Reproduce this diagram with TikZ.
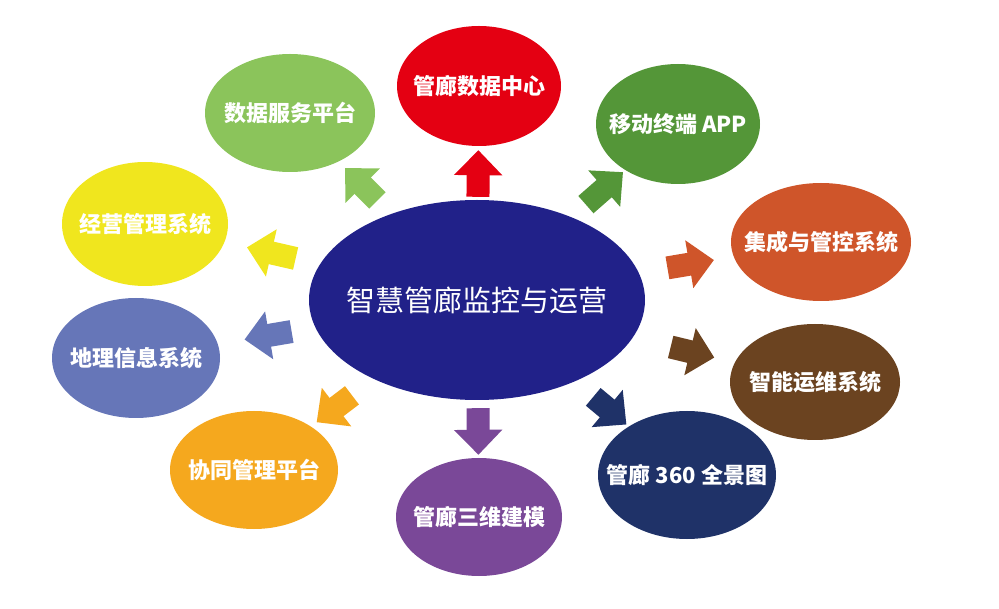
\documentclass[tikz,border=0pt]{standalone}
\usepackage{fontspec}
\setmainfont{Noto Sans CJK SC}
\usepackage{tikz}
\usetikzlibrary{shapes.geometric, arrows.meta}

\definecolor{hubblue}{RGB}{33,33,137}
\definecolor{dcred}{RGB}{228,0,18}
\definecolor{appgreen}{RGB}{84,150,56}
\definecolor{svcgreen}{RGB}{139,196,91}
\definecolor{mgmtyellow}{RGB}{240,230,30}
\definecolor{intorange}{RGB}{207,85,42}
\definecolor{geoblue}{RGB}{102,118,184}
\definecolor{opsbrown}{RGB}{107,67,32}
\definecolor{coopamber}{RGB}{245,168,30}
\definecolor{modpurple}{RGB}{122,72,152}
\definecolor{panonavy}{RGB}{31,50,104}

% text that does not stretch the ellipse
\newcommand{\blobtext}[1]{\makebox[0pt]{#1}}

\begin{document}
\begin{tikzpicture}[
        x=1pt, y=-1pt,
        blob/.style={ellipse, inner sep=0pt, text=white, font=\bfseries\fontsize{22}{22}\selectfont},
        fat/.style={line width=23pt, -{Triangle[width=47pt, length=25pt]}}
    ]
    \useasboundingbox (0,0) rectangle (999,609);

    % Centre node
    \node[ellipse, inner sep=0pt, fill=hubblue, minimum width=336pt, minimum height=200pt, text=white, font=\fontsize{29}{29}\selectfont] (hub) at (477,300) {\blobtext{智慧管廊监控与运营}};

    % Outer nodes
    \node[blob, fill=dcred, minimum width=164pt, minimum height=120pt] (dc) at (479,86) {\blobtext{管廊数据中心}};
    \node[blob, fill=appgreen, minimum width=164pt, minimum height=120pt] (app) at (678,124) {\blobtext{移动终端 APP}};
    \node[blob, fill=svcgreen, minimum width=170pt, minimum height=118pt] (svc) at (290,113) {\blobtext{数据服务平台}};
    \node[blob, fill=mgmtyellow, minimum width=166pt, minimum height=124pt] (mgmt) at (145,224) {\blobtext{经营管理系统}};
    \node[blob, fill=intorange, minimum width=180pt, minimum height=118pt] (integ) at (821,242) {\blobtext{集成与管控系统}};
    \node[blob, fill=geoblue, minimum width=168pt, minimum height=120pt] (geo) at (136,358) {\blobtext{地理信息系统}};
    \node[blob, fill=opsbrown, minimum width=170pt, minimum height=116pt] (ops) at (815,382) {\blobtext{智能运维系统}};
    \node[blob, fill=coopamber, minimum width=168pt, minimum height=118pt] (coop) at (254,470) {\blobtext{协同管理平台}};
    \node[blob, fill=modpurple, minimum width=166pt, minimum height=118pt] (model) at (479,517) {\blobtext{管廊三维建模}};
    \node[blob, fill=panonavy, minimum width=178pt, minimum height=128pt] (pano) at (687,475) {\blobtext{管廊 360 全景图}};

    % Block arrows
    \draw[fat, dcred, shorten <=3pt, shorten >=4pt] (hub) -- (dc);
    \draw[fat, appgreen, shorten <=19pt, shorten >=3pt] (hub) -- (app);
    \draw[fat, svcgreen, shorten <=19pt, shorten >=9pt] (hub) -- (svc);
    \draw[fat, mgmtyellow, shorten <=25pt, shorten >=23pt] (hub) -- (mgmt);
    \draw[fat, intorange, shorten <=29pt, shorten >=20pt] (hub) -- (integ);
    \draw[fat, geoblue, shorten <=24pt, shorten >=27pt] (hub) -- (geo);
    \draw[fat, opsbrown, shorten <=39pt, shorten >=21pt] (hub) -- (ops);
    \draw[fat, coopamber, shorten <=27pt, shorten >=7pt] (hub) -- (coop);
    \draw[fat, modpurple, shorten <=8pt, shorten >=3pt] (hub) -- (model);
    \draw[fat, panonavy, shorten <=24pt, shorten >=3pt] (hub) -- (pano);

\end{tikzpicture}
\end{document}
